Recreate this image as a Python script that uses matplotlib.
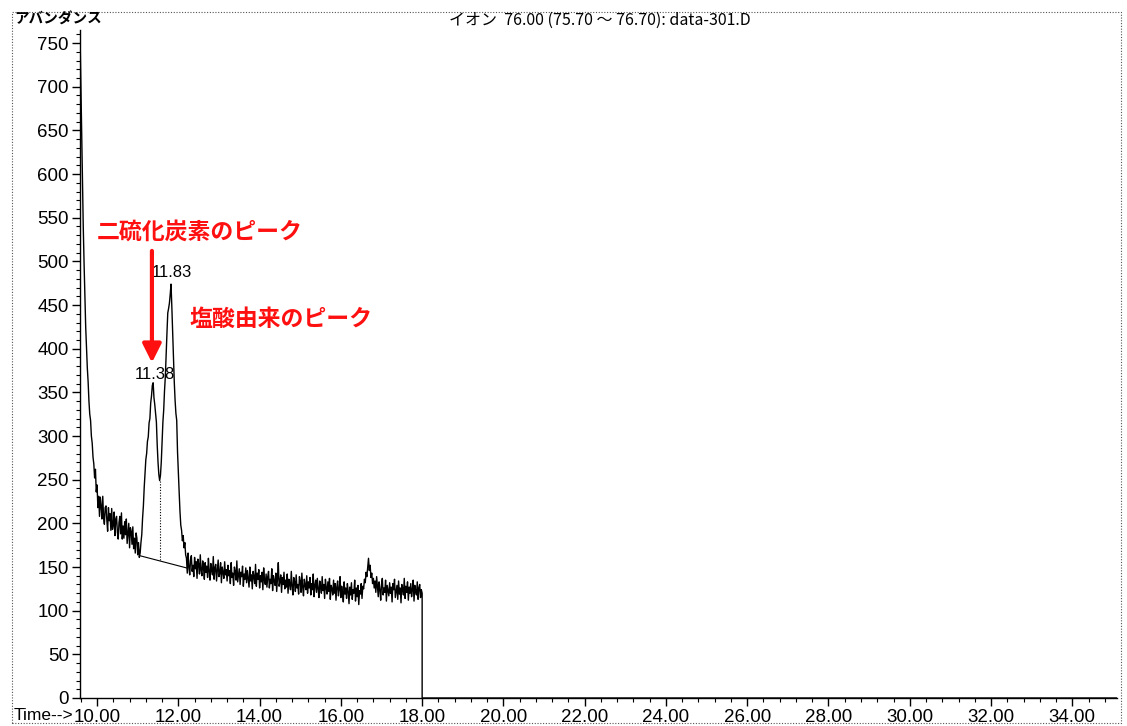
import numpy as np
import matplotlib
matplotlib.use("Agg")
import matplotlib.pyplot as plt
from matplotlib.ticker import MultipleLocator, FormatStrFormatter
from matplotlib.patches import Rectangle

# ---------------- data ----------------
t_start = 9.58          # first scan time (min)
t_step = 0.02           # scan interval (min)

# solvent tail 9.58 - 9.98
abund_front = [762, 705, 650, 592, 540, 498, 462, 425, 400, 378, 362, 340, 325,
               318, 300, 292, 276, 268, 252, 262, 236]
# noisy decay 10.00 - 11.04
abund_decay = [244, 218, 231, 208, 230, 220, 205, 231, 207, 199, 218, 220, 204,
               191, 218, 203, 211, 192, 217, 193, 198, 213, 186, 205, 208, 190,
               182, 201, 208, 188, 212, 182, 197, 183, 202, 187, 205, 177, 189,
               200, 172, 195, 191, 176, 196, 171, 183, 166, 189, 183, 164, 178,
               161]
# peaks 11.06 - 12.18
abund_peaks = [166, 178, 187, 206, 220, 241, 256, 273, 280, 294, 299, 315, 320,
               338, 346, 358, 361, 344, 336, 326, 316, 290, 270, 256, 249, 255,
               270, 292, 316, 330, 352, 368, 394, 418, 441, 446, 452, 462, 474,
               448, 418, 392, 362, 341, 326, 318, 282, 258, 236, 214, 198, 192,
               180, 186, 172, 178, 164]
# baseline 12.20 - 17.98
abund_base = [
    160, 143, 166, 150, 141, 158, 163, 145, 152, 139, 161, 148, 156, 137, 159, 153, 142, 164, 146, 140, 157, 149, 136, 155, 144,
    151, 138, 160, 145, 135, 154, 147, 141, 162, 136, 149, 153, 134, 146, 158, 139, 143, 155, 132, 150, 144, 137, 156, 141, 147,
    134, 152, 140, 146, 131, 155, 138, 143, 129, 150, 145, 135, 157, 133, 141, 148, 130, 144, 139, 151, 128, 142, 136, 149, 132,
    146, 137, 127, 150, 134, 141, 125, 145, 139, 131, 153, 128, 143, 136, 147, 126, 140, 133, 144, 124, 149, 135, 130, 142, 127,
    139, 145, 126, 136, 131, 148, 123, 140, 134, 129, 143, 122, 137, 155, 128, 133, 141, 121, 138, 130, 144, 125, 135, 127, 142,
    120, 136, 131, 124, 145, 128, 118, 138, 133, 122, 141, 126, 130, 119, 139, 134, 121, 143, 127, 117, 136, 129, 124, 140, 120,
    133, 126, 138, 118, 131, 124, 142, 116, 129, 135, 121, 137, 125, 115, 134, 128, 120, 139, 123, 130, 114, 136, 126, 119, 133,
    122, 137, 113, 129, 125, 118, 135, 120, 131, 112, 127, 134, 117, 124, 139, 115, 128, 121, 110, 133, 119, 126, 114, 131, 122,
    108, 127, 118, 132, 113, 124, 120, 135, 111, 126, 116, 129, 107, 123, 119, 131, 114, 128, 125, 136, 132, 144, 139, 150, 160,
    146, 152, 138, 143, 131, 137, 126, 134, 121, 139, 128, 116, 133, 124, 112, 130, 137, 118, 126, 121, 135, 111, 129, 123, 117,
    132, 120, 127, 110, 131, 124, 136, 115, 122, 129, 113, 134, 119, 126, 109, 130, 125, 118, 137, 114, 128, 121, 133, 112, 127,
    120, 131, 116, 124, 135, 111, 129, 122, 118, 133, 113, 126, 130, 115, 124,
]
end_time = 18.00
end_value = 120
run_end = 35.10

peak_times = [11.38, 11.83]
peak_label_pos = [(11.42, 370), (11.85, 487)]
baseline_t = [11.05, 12.20]
baseline_v = [163, 149]
split_t = 11.54
split_v = [249, 157]

title = "イオン  76.00 (75.70 〜 76.70): data-301.D"
ylabel = "アバンダンス"
xlabel = "Time-->"
note1 = "二硫化炭素のピーク"
note2 = "塩酸由来のピーク"

# ---------------- figure ----------------
W, H = 1127, 726
fig = plt.figure(figsize=(W / 100, H / 100), dpi=100)
ax = fig.add_axes([80 / W, 1 - 698 / H, (1117 - 80) / W, (698 - 30) / H])

abundance = abund_front + abund_decay + abund_peaks + abund_base
n = len(abundance)
times = t_start + t_step * np.arange(n)
tt = np.concatenate([times, [end_time, end_time, run_end]])
vv = np.concatenate([abundance, [end_value, 0, 0]])
ax.plot(tt, vv, color="black", lw=1.0)

# integration baseline / split
ax.plot(baseline_t, baseline_v, color="black", lw=0.8)
ax.plot([split_t, split_t], split_v, color="black", lw=0.8, ls=(0, (1, 1.5)))

tick_font = ["Liberation Sans Narrow", "Liberation Sans", "DejaVu Sans"]
jp_font = ["Noto Sans CJK JP", "DejaVu Sans"]

for (px, py), pt in zip(peak_label_pos, peak_times):
    ax.text(px, py, f"{pt:.2f}", ha="center", va="center", fontsize=12,
            family=tick_font)

ax.set_xlim(t_start, run_end)
ax.set_ylim(0, 765)

for s in ["top", "right"]:
    ax.spines[s].set_visible(False)
for s in ["left", "bottom"]:
    ax.spines[s].set_linewidth(1.0)

ax.xaxis.set_major_locator(MultipleLocator(2))
ax.xaxis.set_minor_locator(MultipleLocator(0.4))
ax.xaxis.set_major_formatter(FormatStrFormatter("%.2f"))
ax.yaxis.set_major_locator(MultipleLocator(50))
ax.yaxis.set_minor_locator(MultipleLocator(10))
ax.tick_params(axis="both", which="major", direction="out", length=6, width=1,
               labelsize=13.5, pad=2)
ax.tick_params(axis="both", which="minor", direction="out", length=3, width=0.8)
for lab in ax.get_xticklabels() + ax.get_yticklabels():
    lab.set_family(tick_font)

# red annotations
ax.annotate("", xy=(11.35, 384), xytext=(11.35, 512),
            arrowprops=dict(arrowstyle="-|>", color="#ff1010", lw=3,
                            mutation_scale=28, shrinkA=0, shrinkB=0))
ax.text(10.0, 533, note1, color="#ff1010", fontsize=16.5, fontweight="bold",
        family=jp_font, ha="left", va="center")
ax.text(12.28, 434, note2, color="#ff1010", fontsize=16.5, fontweight="bold",
        family=jp_font, ha="left", va="center")

# header / labels in figure coords
fig.text(600 / W, 1 - 20 / H, title, ha="center", va="center", fontsize=11.5,
         family=jp_font)
fig.text(14 / W, 1 - 19 / H, ylabel, ha="left", va="center", fontsize=10.5,
         fontweight="bold", family=jp_font)
fig.text(14 / W, 1 - 716 / H, xlabel, ha="left", va="center", fontsize=12.5,
         family=tick_font)

# dotted frame around the page
fig.patches.append(Rectangle((12 / W, 1 - 723 / H), (1121 - 12) / W, (723 - 12) / H,
                             transform=fig.transFigure, fill=False,
                             ls=(0, (1, 1.5)), lw=0.8, edgecolor="#555555"))

fig.savefig("out.png", dpi=100)
